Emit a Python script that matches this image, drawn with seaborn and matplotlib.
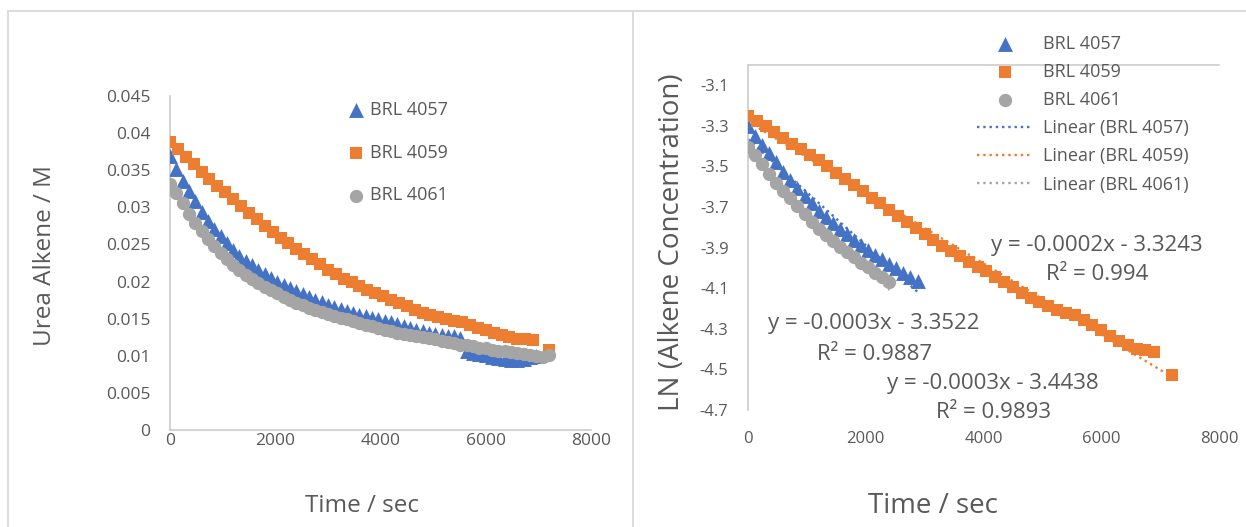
import numpy as np
import matplotlib
matplotlib.use("Agg")
import matplotlib.pyplot as plt
import seaborn as sns
from matplotlib.lines import Line2D

# ---- data -------------------------------------------------------------
SAMPLES = ["BRL 4057", "BRL 4059", "BRL 4061"]

time_4057 = [0, 120, 240, 360, 480, 600, 720, 840, 960, 1080, 1200, 1320, 1440, 1560,
             1680, 1800, 1920, 2040, 2160, 2280, 2400, 2520, 2640, 2760, 2880, 3000,
             3120, 3240, 3360, 3480, 3600, 3720, 3840, 3960, 4080, 4200, 4320, 4440,
             4560, 4680, 4800, 4920, 5040, 5160, 5280, 5400, 5520, 5640, 5760, 5880,
             6000, 6120, 6240, 6360, 6480, 6600, 6720, 6840, 6960]
conc_4057 = [0.0369, 0.0351, 0.0336, 0.0322, 0.0308, 0.0294, 0.0282, 0.0271, 0.0261,
             0.0252, 0.0243, 0.0235, 0.0228, 0.0222, 0.0216, 0.0210, 0.0205, 0.0200,
             0.0195, 0.0191, 0.0187, 0.0183, 0.0179, 0.0175, 0.0172, 0.0169, 0.0166,
             0.0163, 0.0160, 0.0158, 0.0155, 0.0153, 0.0151, 0.0149, 0.0147, 0.0145,
             0.0143, 0.0140, 0.0138, 0.0135, 0.0133, 0.0131, 0.0130, 0.0128, 0.0127,
             0.0126, 0.0124, 0.0106, 0.0104, 0.0102, 0.0101, 0.0099, 0.0097, 0.0095,
             0.0094, 0.0094, 0.0095, 0.0098, 0.0100]

time_4059 = [0, 150, 300, 450, 600, 750, 900, 1050, 1200, 1350, 1500, 1650, 1800, 1950,
             2100, 2250, 2400, 2550, 2700, 2850, 3000, 3150, 3300, 3450, 3600, 3750,
             3900, 4050, 4200, 4350, 4500, 4650, 4800, 4950, 5100, 5250, 5400, 5550,
             5700, 5850, 6000, 6150, 6300, 6450, 6600, 6750, 6900, 7200]
conc_4059 = [0.0388, 0.0378, 0.0368, 0.0358, 0.0348, 0.0338, 0.0329, 0.0320, 0.0311,
             0.0302, 0.0293, 0.0284, 0.0275, 0.0267, 0.0259, 0.0252, 0.0244, 0.0237,
             0.0230, 0.0223, 0.0216, 0.0210, 0.0204, 0.0199, 0.0194, 0.0189, 0.0184,
             0.0180, 0.0175, 0.0171, 0.0167, 0.0162, 0.0158, 0.0155, 0.0152, 0.0149,
             0.0147, 0.0145, 0.0142, 0.0138, 0.0135, 0.0131, 0.0128, 0.0125, 0.0123,
             0.0122, 0.0121, 0.0108]

time_4061 = [0, 120, 240, 360, 480, 600, 720, 840, 960, 1080, 1200, 1320, 1440, 1560,
             1680, 1800, 1920, 2040, 2160, 2280, 2400, 2520, 2640, 2760, 2880, 3000,
             3120, 3240, 3360, 3480, 3600, 3720, 3840, 3960, 4080, 4200, 4320, 4440,
             4560, 4680, 4800, 4920, 5040, 5160, 5280, 5400, 5520, 5640, 5760, 5880,
             6000, 6120, 6240, 6360, 6480, 6600, 6720, 6840, 6960, 7080, 7200]
conc_4061 = [0.0332, 0.0319, 0.0306, 0.0291, 0.0279, 0.0268, 0.0258, 0.0248, 0.0239,
             0.0230, 0.0222, 0.0215, 0.0209, 0.0203, 0.0198, 0.0193, 0.0188, 0.0184,
             0.0179, 0.0175, 0.0171, 0.0168, 0.0165, 0.0162, 0.0159, 0.0156, 0.0154,
             0.0151, 0.0149, 0.0147, 0.0144, 0.0142, 0.0140, 0.0137, 0.0135, 0.0133,
             0.0131, 0.0130, 0.0128, 0.0127, 0.0125, 0.0124, 0.0122, 0.0120, 0.0118,
             0.0117, 0.0115, 0.0114, 0.0113, 0.0111, 0.0110, 0.0108, 0.0107, 0.0106,
             0.0105, 0.0104, 0.0103, 0.0101, 0.0100, 0.0099, 0.0101]

# time window used for the first-order (LN) plot of each sample
ln_window_end = {"BRL 4057": 2880, "BRL 4059": 7200, "BRL 4061": 2400}

# trendline equations as reported by the fit
trend_text = {
    "BRL 4059": ["y = -0.0002x - 3.3243", "R² = 0.994"],
    "BRL 4057": ["y = -0.0003x - 3.3522", "R² = 0.9887"],
    "BRL 4061": ["y = -0.0003x - 3.4438", "R² = 0.9893"],
}

x_ticks = [0, 2000, 4000, 6000, 8000]
x_tick_labels = ["0", "2000", "4000", "6000", "8000"]
conc_ticks = [0, 0.005, 0.01, 0.015, 0.02, 0.025, 0.03, 0.035, 0.04, 0.045]
conc_tick_labels = ["0", "0.005", "0.01", "0.015", "0.02", "0.025", "0.03", "0.035",
                    "0.04", "0.045"]
ln_ticks = [-4.7, -4.5, -4.3, -4.1, -3.9, -3.7, -3.5, -3.3, -3.1]
ln_tick_labels = ["-4.7", "-4.5", "-4.3", "-4.1", "-3.9", "-3.7", "-3.5", "-3.3", "-3.1"]

series = {
    "BRL 4057": (np.array(time_4057), np.array(conc_4057)),
    "BRL 4059": (np.array(time_4059), np.array(conc_4059)),
    "BRL 4061": (np.array(time_4061), np.array(conc_4061)),
}

# ---- style ------------------------------------------------------------
sns.set_theme(style="white")
plt.rcParams["font.family"] = ["Open Sans", "DejaVu Sans"]
plt.rcParams["axes.unicode_minus"] = False

TEXT = "#595959"
AXIS = "#c8c8c8"
FRAME = "#d9d9d9"
COLORS = {"BRL 4057": "#4472C4", "BRL 4059": "#ED7D31", "BRL 4061": "#A5A5A5"}
MARKERS = {"BRL 4057": "^", "BRL 4059": "s", "BRL 4061": "o"}
SIZES = {"BRL 4057": 115, "BRL 4059": 80, "BRL 4061": 92}

W, H = 1246, 527
fig = plt.figure(figsize=(W / 100, H / 100), dpi=100)


def fx(px):
    return px / W


def fy(py):
    return 1 - py / H


ax1 = fig.add_axes([fx(170), fy(430), (591 - 170) / W, (430 - 96) / H])
ax2 = fig.add_axes([fx(748), fy(410), (1219 - 748) / W, (410 - 65) / H])

# ---- left: concentration vs time -------------------------------------
for name in SAMPLES:
    t, c = series[name]
    sns.scatterplot(x=t, y=c, ax=ax1, marker=MARKERS[name], color=COLORS[name],
                    s=SIZES[name], linewidth=0, label=name, zorder=3)

ax1.set_xlim(0, 8000)
ax1.set_ylim(0, 0.045)
ax1.set_xticks(x_ticks)
ax1.set_xticklabels(x_tick_labels)
ax1.set_yticks(conc_ticks)
ax1.set_yticklabels(conc_tick_labels)
ax1.set_xlabel("")
ax1.set_ylabel("")
ax1.tick_params(axis="both", length=0, labelsize=12.5, labelcolor=TEXT)
ax1.tick_params(axis="y", pad=14)
ax1.tick_params(axis="x", pad=2)
for side in ["top", "right"]:
    ax1.spines[side].set_visible(False)
for side in ["left", "bottom"]:
    ax1.spines[side].set_color(AXIS)
    ax1.spines[side].set_linewidth(1.1)

ax1.legend(loc="upper left", bbox_to_anchor=(fx(347), fy(101)),
           bbox_transform=fig.transFigure, frameon=False, fontsize=13,
           labelcolor=TEXT, handlelength=1.0, handletextpad=0.25,
           labelspacing=1.37, borderpad=0, borderaxespad=0)

fig.text(fx(362), fy(506), "Time / sec", ha="center", va="center",
         fontsize=17.5, color=TEXT)
fig.text(fx(45), fy(256), "Urea Alkene / M", ha="center", va="center",
         rotation=90, fontsize=17.5, color=TEXT)

# ---- right: LN(concentration) vs time with linear fits ----------------
for name in SAMPLES:
    t, c = series[name]
    keep = t <= ln_window_end[name]
    tt, ln_c = t[keep], np.log(c[keep])
    sns.regplot(x=tt, y=ln_c, ax=ax2, scatter=False, ci=None, truncate=True,
                color=COLORS[name], label=f"Linear ({name})",
                line_kws={"ls": ":", "lw": 1.7, "zorder": 1})
    sns.scatterplot(x=tt, y=ln_c, ax=ax2, marker=MARKERS[name], color=COLORS[name],
                    s=SIZES[name], linewidth=0, label=name, zorder=3)

handles, labels = ax2.get_legend_handles_labels()
lookup = dict(zip(labels, handles))
order = [k for k in SAMPLES + [f"Linear ({n})" for n in SAMPLES] if k in lookup]
ax2.legend([lookup[k] for k in order], order, loc="upper left",
           bbox_to_anchor=(fx(977), fy(35)), bbox_transform=fig.transFigure,
           frameon=False, fontsize=13, labelcolor=TEXT, handlelength=3.1,
           handletextpad=0.55, labelspacing=0.56, borderpad=0, borderaxespad=0)

ax2.set_xlim(0, 8000)
ax2.set_ylim(-4.7, -3.0)
ax2.set_xticks(x_ticks)
ax2.set_xticklabels(x_tick_labels)
ax2.set_yticks(ln_ticks)
ax2.set_yticklabels(ln_tick_labels)
ax2.set_xlabel("")
ax2.set_ylabel("")
ax2.tick_params(axis="both", length=0, labelsize=12, labelcolor=TEXT)
ax2.tick_params(axis="y", pad=14)
ax2.tick_params(axis="x", pad=15)
for side in ["bottom", "right"]:
    ax2.spines[side].set_visible(False)
for side in ["left", "top"]:
    ax2.spines[side].set_color(AXIS)
    ax2.spines[side].set_linewidth(1.1)

eq_pos = {"BRL 4059": [(1097, 245), (1097, 275)],
          "BRL 4057": [(874, 324), (875, 354)],
          "BRL 4061": [(993, 383), (993, 413)]}
for name in SAMPLES:
    for (px, py), txt in zip(eq_pos[name], trend_text[name]):
        fig.text(fx(px), fy(py), txt, ha="center", va="center", fontsize=16,
                 color=TEXT)

fig.text(fx(933), fy(506), "Time / sec", ha="center", va="center",
         fontsize=20, color=TEXT)
fig.text(fx(672), fy(242), "LN (Alkene Concentration)", ha="center", va="center",
         rotation=90, fontsize=20, color=TEXT)

# ---- chart frames ----------------------------------------------------
for xs, ys in [([fx(8), 1.0], [fy(11), fy(11)]),
               ([fx(8), fx(8)], [fy(11), 0.0]),
               ([fx(633), fx(633)], [fy(11), 0.0])]:
    fig.add_artist(Line2D(xs, ys, transform=fig.transFigure, color=FRAME, lw=1.3))

fig.savefig("out.png", dpi=100)
